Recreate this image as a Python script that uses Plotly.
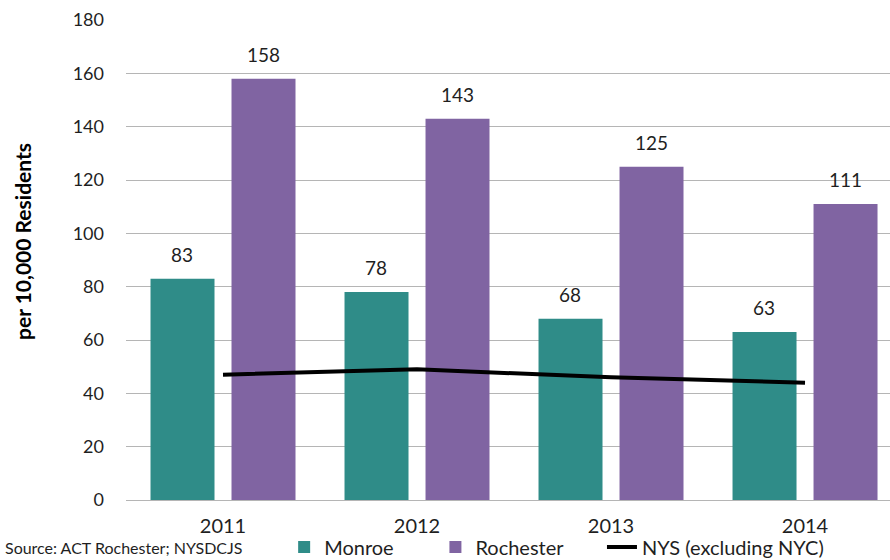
import plotly.graph_objects as go

years = ["2011", "2012", "2013", "2014"]
monroe = [83, 78, 68, 63]
rochester = [158, 143, 125, 111]
nys = [47, 49, 46, 44]
y_ticks = [0, 20, 40, 60, 80, 100, 120, 140, 160, 180]

TEAL = "#2f8c88"
PURPLE = "#8064a2"
FONT = "Lato"
TXT = "#1f1f1f"

fig = go.Figure()
fig.add_trace(go.Bar(x=years, y=monroe, name="Monroe", legend="legend",
                     marker=dict(color=TEAL, line=dict(width=0))))
fig.add_trace(go.Bar(x=years, y=rochester, name="Rochester", legend="legend2",
                     marker=dict(color=PURPLE, line=dict(width=0))))
fig.add_trace(go.Scatter(x=years, y=nys, name="NYS (excluding NYC)", mode="lines", legend="legend3",
                         line=dict(color="black", width=4)))

# data labels above bars
off = 0.21
for i, (m, r) in enumerate(zip(monroe, rochester)):
    fig.add_annotation(x=i - off, y=m, text=str(m), showarrow=False, yanchor="bottom",
                       yshift=11, font=dict(size=19, color=TXT, family=FONT))
    fig.add_annotation(x=i + off, y=r, text=str(r), showarrow=False, yanchor="bottom",
                       yshift=11, font=dict(size=19, color=TXT, family=FONT))

PW = 764  # plot width in px
fig.add_annotation(xref="paper", yref="paper", x=-123 / PW, y=-0.098, xanchor="left", yanchor="middle",
                   text="Source: ACT Rochester; NYSDCJS", showarrow=False,
                   font=dict(size=16, color=TXT, family=FONT))

# y-axis title (Excel places it slightly above the centre)
fig.add_annotation(xref="paper", yref="paper", x=-104 / PW, y=0.5375, xanchor="center", yanchor="middle",
                   text="<b>per 10,000 Residents</b>", textangle=-90, showarrow=False,
                   font=dict(size=21, color="#000", family=FONT))

leg_common = dict(orientation="h", xanchor="left", y=-0.098, yanchor="middle",
                  font=dict(size=20, family=FONT, color=TXT), bgcolor="rgba(0,0,0,0)")

fig.update_layout(
    width=890, height=560,
    margin=dict(l=126, r=0, t=20, b=60, autoexpand=False),
    paper_bgcolor="white", plot_bgcolor="white",
    font=dict(family=FONT, size=19, color=TXT),
    barmode="group", bargap=0.165, bargroupgap=0.21,
    showlegend=True,
    legend=dict(x=0.207, **leg_common),
    legend2=dict(x=0.405, **leg_common),
    legend3=dict(x=0.623, **leg_common),
    xaxis=dict(type="category", range=[-0.5, 3.438], showgrid=False, zeroline=False,
               showline=False, ticks="", ticklabelstandoff=12, automargin=False,
               tickfont=dict(size=20, family=FONT, color=TXT)),
    yaxis=dict(range=[0, 180], tickvals=y_ticks, showgrid=True, gridcolor="#b5b5b5", gridwidth=1.4,
               zeroline=True, zerolinecolor="#b5b5b5", zerolinewidth=1.4,
               showline=False, ticks="", ticklabelstandoff=21, automargin=False,
               tickfont=dict(size=18, family=FONT, color=TXT)),
)

fig.write_html("out.html", config={"displayModeBar": False},
               post_script="document.body.style.margin='0';")
